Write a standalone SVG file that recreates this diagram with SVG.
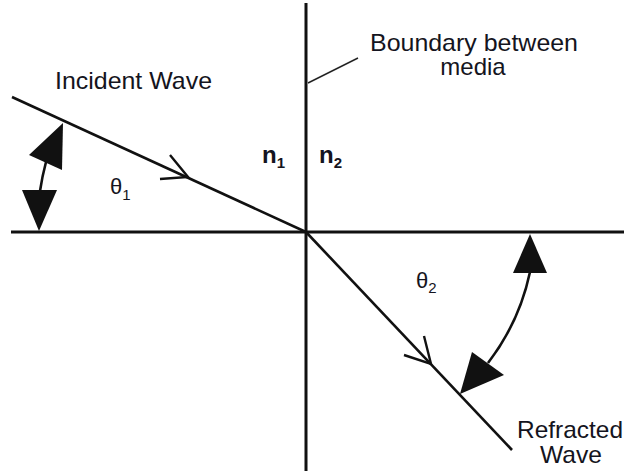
<svg xmlns="http://www.w3.org/2000/svg" width="624" height="471" viewBox="0 0 624 471">
<style>
.ln{stroke:#111;fill:none;stroke-linecap:butt}
.ax{stroke-width:3}
.ray{stroke-width:2.6}
.chev{stroke:#111;stroke-width:2.4;fill:none;stroke-linejoin:miter}
.arc{stroke:#111;stroke-width:2.6;fill:none}
.head{fill:#111;stroke:none}
.t{font-family:"Liberation Sans",Arial,sans-serif;fill:#141420}
.lbl{font-size:24px}
.n{font-size:24px;font-weight:bold}
.sub{font-size:15px}
.th{font-size:22px}
</style>
<rect width="624" height="471" fill="#fff"/>
<g id="connectors">
<line class="ln ax" x1="306" y1="3" x2="306" y2="471"/>
<line class="ln ax" x1="11" y1="232" x2="624" y2="232"/>
<line class="ln ray" x1="12" y1="97" x2="306" y2="232"/>
<line class="ln ray" x1="306" y1="232" x2="512" y2="450"/>
<polyline class="chev" points="170,155 188,177 160,179"/>
<polyline class="chev" points="424,336 431,364 404,355"/>
<line x1="308" y1="83" x2="358" y2="58" stroke="#222" stroke-width="1.5"/>
</g>
<g id="angle1">
<path class="arc" d="M46 162 A266 266 0 0 0 40 191"/>
<polygon class="head" points="63,123 29,155 62,170"/>
<polygon class="head" points="39,231 22,190 57,190"/>
</g>
<g id="angle2">
<path class="arc" d="M530 272 A226 226 0 0 1 488 363"/>
<polygon class="head" points="530,234 513,273 547,273"/>
<polygon class="head" points="460,394 472,352 504,375"/>
</g>
<g id="incident-label"><text class="t lbl" x="55" y="89" textLength="157" lengthAdjust="spacingAndGlyphs">Incident Wave</text></g>
<g id="boundary-label">
<text class="t lbl" x="370" y="51" textLength="208" lengthAdjust="spacingAndGlyphs">Boundary between</text>
<text class="t lbl" x="473" y="75" text-anchor="middle">media</text>
</g>
<g id="refracted-label">
<text class="t lbl" x="517" y="438" textLength="106" lengthAdjust="spacingAndGlyphs">Refracted</text>
<text class="t lbl" x="540" y="463" textLength="62" lengthAdjust="spacingAndGlyphs">Wave</text>
</g>
<g id="n1"><text class="t n" x="262" y="163">n<tspan class="sub" dy="5">1</tspan></text></g>
<g id="n2"><text class="t n" x="319" y="163">n<tspan class="sub" dy="5">2</tspan></text></g>
<g id="theta1"><text class="t th" x="110" y="194">θ<tspan class="sub" dy="6">1</tspan></text></g>
<g id="theta2"><text class="t th" x="416" y="288">θ<tspan class="sub" dy="5">2</tspan></text></g>
</svg>
